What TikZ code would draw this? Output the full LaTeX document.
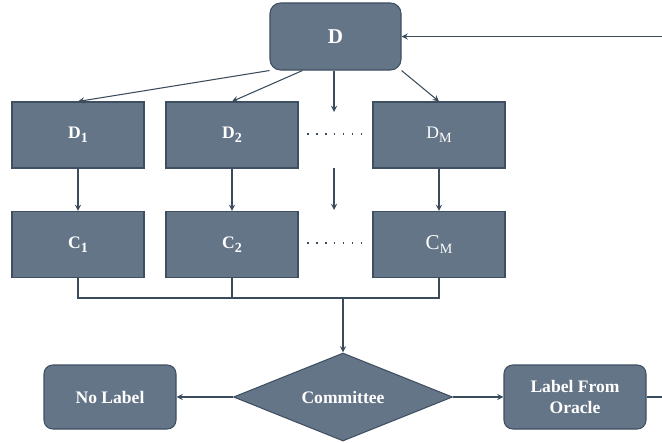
\documentclass[tikz,border=0pt]{standalone}
\usepackage{fontspec}
\setmainfont{Liberation Serif}
\usetikzlibrary{shapes.geometric,calc}
\definecolor{slate}{HTML}{647588}
\definecolor{slatedark}{HTML}{3E4F61}
\definecolor{wire}{HTML}{3A4B5C}
\newcommand{\lowsub}[1]{\raisebox{-0.45ex}{\footnotesize #1}}
\begin{document}
\begin{tikzpicture}[
    block/.style={
        rectangle,
        minimum width=2.64cm,
        minimum height=1.32cm,
        inner sep=0pt,
        draw=slatedark,
        line width=0.6pt,
        fill=slate,
        text=white,
        font=\bfseries,
        align=center
    },
    rblock/.style={
        block,
        rounded corners=5pt,
        minimum height=1.28cm
    },
    decide/.style={
        diamond,
        aspect=2.5,
        minimum width=4.38cm,
        minimum height=1.76cm,
        inner sep=0pt,
        draw=slatedark,
        line width=0.6pt,
        fill=slate,
        text=white,
        font=\bfseries
    },
    dots/.style={wire, line width=1.1pt, dash pattern=on 0.9pt off 4.2pt},
    line/.style={wire, line width=0.6pt},
    arrow/.style={->, >=stealth, line width=0.6pt, wire}
]
\useasboundingbox (0,0) rectangle (13.24,-8.86);

\node[rblock, minimum width=2.62cm, minimum height=1.34cm, rounded corners=6pt, font=\bfseries\large] (D) at (6.71,-0.73) {D};

\node[block] (d1) at (1.56,-2.7) {D\lowsub{1}};
\node[block] (d2) at (4.64,-2.7) {D\lowsub{2}};
\node[block, font=\normalfont] (dm) at (8.78,-2.7) {D\lowsub{M}};

\node[block] (c1) at (1.56,-4.89) {C\lowsub{1}};
\node[block] (c2) at (4.64,-4.89) {C\lowsub{2}};
\node[block, font=\normalfont\large] (cm) at (8.78,-4.89) {C\lowsub{M}};

\node[decide] (com) at (6.86,-7.94) {Committee};
\node[rblock, minimum width=2.64cm] (nolab) at (2.2,-7.94) {No Label};
\node[rblock, minimum width=2.84cm] (oracle) at (11.5,-7.94) {Label From\\Oracle};

% dotted gaps and the middle column
\coordinate (g1a) at (6.14,-2.68);
\coordinate (g1b) at (7.26,-2.68);
\coordinate (g2a) at (6.14,-4.86);
\coordinate (g2b) at (7.26,-4.86);
\draw[dots] (g1a) -- (g1b);
\draw[dots] (g2a) -- (g2b);
\coordinate (m1) at (6.68,-2.24);
\coordinate (m2) at (6.68,-3.36);
\coordinate (m3) at (6.68,-4.2);
\draw[arrow] (D.south -| m1) -- (m1);
\draw[arrow] (m2) -- (m3);

\draw[arrow] (D.south west) -- (d1.north);
\draw[arrow] ($(D.south)!0.5!(D.south west)$) -- (d2.north);
\draw[arrow] (D.south east) -- (dm.north);

\draw[arrow] (d1) -- (c1);
\draw[arrow] (d2) -- (c2);
\draw[arrow] (dm) -- (cm);

% collect the votes
\coordinate (bus) at (6.86,-5.96);
\draw[line] (c1.south) |- (bus) -| (cm.south);
\draw[line] (c2.south) -- (c2.south |- bus);
\draw[arrow] (bus) -- (com.north);

\draw[arrow] (com.west) -- (nolab.east);
\draw[arrow] (com.east) -- (oracle.west);

% loop back to D
\coordinate (outR) at (13.24,-7.94);
\coordinate (inR) at (13.24,-0.73);
\draw[line] (oracle.east) -- (outR);
\draw[arrow] (inR) -- (D.east);

\end{tikzpicture}
\end{document}
